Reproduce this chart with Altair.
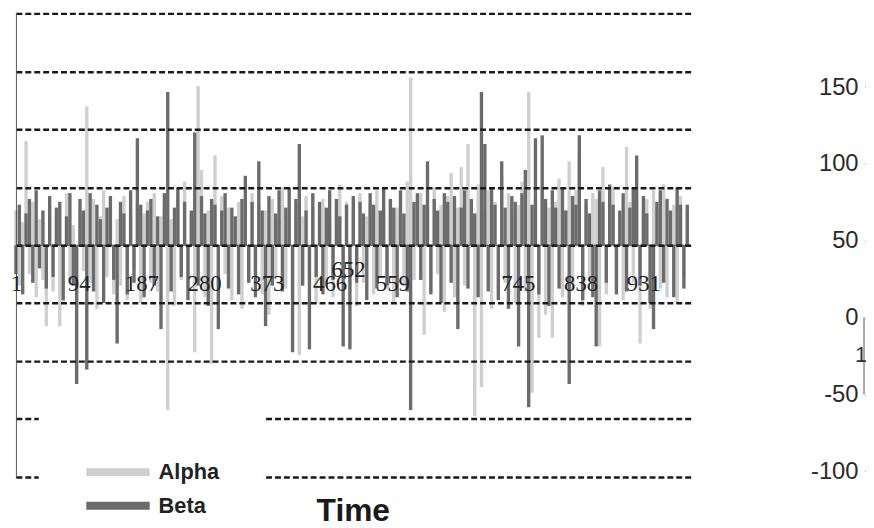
import altair as alt
import pandas as pd

# ---- data (one value per 5 time steps) ----
alpha = [
    12, -14, 8, 36, -10, 15, -18, 9, -12, -28,
    14, -16, 10, -28, -20, 18, -12, 7, -15, 11,
    -9, 48, -13, 16, -22, 10, 19, -11, 13, -17,
    9, -14, 17, -19, 12, -8, 14, -20, 11, 15,
    -13, 18, -16, 10, 13, -57, 9, -21, 16, -12,
    22, -15, 11, -37, 55, 26, -18, 12, -41, 31,
    -14, 17, -10, 13, -19, 8, 15, -22, 11, -13,
    18, -9, 14, -17, 12, -24, 16, -11, 9, 20,
    -15, 12, -19, 14, -38, 10, 17, -12, 13, -20,
    11, 16, -14, 9, -18, 13, 21, -10, 15, -16,
    12, -21, 18, -13, 10, 14, -17, 19, -11, 12,
    -15, 16, -20, 13, 9, -14, 22, 58, -12, 15,
    18, -31, 12, -16, 20, -10, 14, -23, 17, 25,
    -18, 13, 27, -14, 35, 16, -59, 21, -49, 12,
    19, -22, 15, -17, 24, -13, 18, 11, -20, 14,
    22, -16, 53, -51, 17, -32, 20, -24, 13, -32,
    15, 23, -18, 12, 29, -15, 19, 31, -21, 14,
    -12, 18, 16, -35, 27, -17, 13, 20, -14, 11,
    -19, 34, 15, -13, 17, -34, 12, 16, -22, 19,
    13, -15, 21, -18, 11, 14, -20, 17, -11, 12,
]
beta = [
    -10, 14, -17, 11, 16, -13, 19, -8, 12, -15,
    17, -11, 13, 15, -19, 10, 18, -14, -48, 16,
    12, -43, 18, -16, 14, 9, -20, 13, 17, -12,
    -34, 15, 11, -17, 19, -13, 37, 14, -18, 12,
    16, -14, 10, -29, 18, 53, -16, 13, 20, -11,
    15, -19, 12, 39, -14, 17, 11, -21, 16, 14,
    -29, 12, 18, -15, 13, 10, -17, 16, 24, -13,
    15, -18, 29, 12, -28, 17, -14, 11, 19, -16,
    13, 20, -37, 16, 35, -14, 12, -36, 18, -11,
    15, -17, 13, 19, -12, 16, 10, -35, 14, -36,
    17, -13, 15, 11, -19, 18, 14, -15, 12, 20,
    -14, 16, 13, -18, 19, 11, -16, -57, 15, 18,
    -12, 14, 29, -17, 16, 12, -20, 18, 15, -13,
    17, -29, 13, 19, -15, 16, 11, -18, 53, 35,
    -16, 20, 14, -19, 29, 13, -22, 17, 15, -35,
    18, 26, -56, 14, 37, -17, 38, 16, -21, 19,
    13, -15, 20, 12, -48, 17, 14, 38, -19, 16,
    11, -18, -35, 19, 15, -13, 21, 14, -17, 12,
    18, -16, 13, 20, 31, -14, 17, 11, -20, -29,
    15, 19, -13, 16, 12, -18, 20, 14, -15, 14,
]
series_names = ["Alpha", "Beta"]
series_colors = ["#cfcfcf", "#6b6b6b"]
x_tick_labels = [1, 94, 187, 280, 373, 466, 559, 652, 745, 838, 931]
grid_values = [-80, -60, -40, -20, 0, 20, 40, 60, 80]
right_axis_values = [-100, -50, 0, 50, 100, 150]
x_title = "Time"
step = 5

t = [1 + step * i for i in range(len(alpha))]
df = pd.DataFrame({
    "t": t + t,
    "value": alpha + beta,
    "series": [series_names[0]] * len(alpha) + [series_names[1]] * len(beta),
})

W, H = 681, 470

x_enc = alt.X(
    "t:Q",
    scale=alt.Scale(domain=[1, 1001], nice=False, zero=False),
    axis=alt.Axis(
        values=x_tick_labels, title=None, orient="bottom", offset=-233,
        domain=False, ticks=False, grid=False, zindex=2,
        labelFont="Liberation Serif", labelFontSize=23, labelColor="#222222",
        labelPadding={"condition": {"test": "datum.value == 652", "value": 12}, "value": 26},
        labelOffset={"condition": {"test": "datum.value == 652", "value": -108}, "value": 0},
        labelFlush=False, labelOverlap=False, labelBound=False,
    ),
)
y_scale = alt.Scale(domain=[-80.5, 80.5], nice=False)

bars = alt.Chart(df).mark_rule(strokeWidth=3.4).encode(
    x=x_enc,
    y=alt.Y(
        "value:Q", scale=y_scale,
        axis=alt.Axis(
            values=grid_values, labels=False, ticks=False, title=None,
            domain=True, domainColor="#555555", domainWidth=1,
            grid=True, gridDash=[6, 3], gridColor="#1a1a1a", gridWidth=2.5,
            zindex=1,
        ),
    ),
    y2=alt.datum(0),
    color=alt.Color(
        "series:N",
        scale=alt.Scale(domain=series_names, range=series_colors),
        legend=alt.Legend(
            title=None, orient="none", legendX=23, legendY=405,
            symbolType="stroke", symbolStrokeWidth=8, symbolSize=4096,
            labelFont="Liberation Sans", labelFontSize=22, labelFontWeight="bold",
            labelColor="#222222", labelOffset=5,
            clipHeight=30, rowPadding=4,
            fillColor="white", padding=44, zindex=3,
        ),
    ),
)

zero_line = alt.Chart(pd.DataFrame({"z": [0]})).mark_rule(color="#555555", strokeWidth=1).encode(
    y=alt.Y("z:Q", scale=y_scale),
)

title_text = alt.Chart(pd.DataFrame({"label": [x_title]})).mark_text(
    font="Liberation Sans", fontSize=32, fontWeight="bold", color="#1a1a1a",
    align="center", baseline="alphabetic",
).encode(
    text="label:N",
    x=alt.value(W / 2),
    y=alt.value(H + 43),
)

right_df = pd.DataFrame({"lo": [0], "hi": [-50], "label": ["1"]})
right_scale = alt.Scale(domain=[-104.5, 198.7], nice=False, zero=False)
right_axis = alt.Axis(
    values=right_axis_values, orient="right", offset=176, title=None,
    domain=False, ticks=True, tickSize=3, tickColor="#555555",
    labelExpr="'' + datum.value",
    labelFont="Liberation Sans", labelFontSize=24, labelColor="#2a2a2a",
    labelAlign="right", labelPadding=-10, labelBound=False, labelFlush=False,
    grid=False,
)
right_rule = alt.Chart(right_df).mark_rule(color="#555555", strokeWidth=1).encode(
    x=alt.value(856),
    y=alt.Y("lo:Q", scale=right_scale, axis=right_axis),
    y2="hi:Q",
)
right_label = alt.Chart(right_df).mark_text(
    font="Liberation Sans", fontSize=22, color="#333333", align="center"
).encode(
    text="label:N",
    x=alt.value(853),
    y=alt.Y("lo:Q", scale=right_scale, axis=right_axis),
    yOffset=alt.value(38),
)

main = alt.layer(bars, zero_line, title_text)
right = alt.layer(right_rule, right_label)
chart = alt.layer(main, right).resolve_scale(
    y="independent"
).properties(
    width=W, height=H,
    autosize=alt.AutoSizeParams(type="none"),
    padding={"left": 8, "top": 2, "right": 177, "bottom": 48},
    background="white",
).configure_view(strokeWidth=0)

chart.save("out.html", embed_options={"renderer": "svg", "actions": False})
